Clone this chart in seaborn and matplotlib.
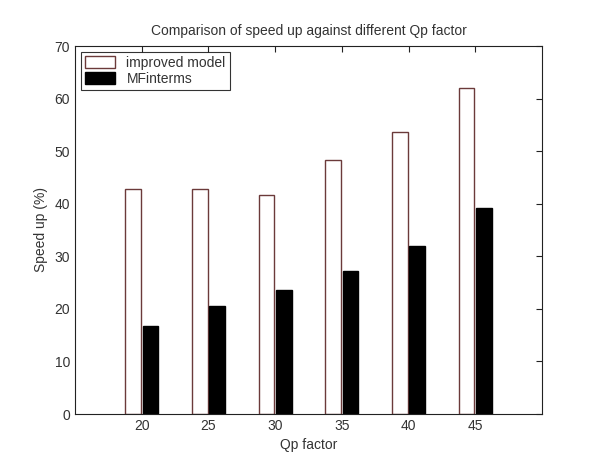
import matplotlib
matplotlib.use("Agg")
import matplotlib.pyplot as plt
import seaborn as sns
import pandas as pd

qp = [20, 25, 30, 35, 40, 45]
improved = [42.8, 42.8, 41.6, 48.4, 53.7, 62.1]
mfinterms = [16.7, 20.5, 23.5, 27.2, 32.0, 39.2]
series = ["improved model", "MFinterms"]

df = pd.DataFrame({
    "qp": qp * 2,
    "speed": improved + mfinterms,
    "series": [series[0]] * len(qp) + [series[1]] * len(qp),
})

sns.set_style("white")
plt.rcParams['font.family'] = ['Liberation Sans', 'DejaVu Sans']

fig = plt.figure(figsize=(6.01, 4.54), dpi=100)
ax = fig.add_axes([75/601, 1 - 414/454, (542-75)/601, (414-46)/454])

sns.barplot(data=df, x="qp", y="speed", hue="series", native_scale=True,
            palette=["white", "black"], width=0.52, gap=0.1, ax=ax, legend=True,
            errorbar=None, saturation=1)

edge_cols = ["#6b3a3a", "black"]
for cont, ec in zip(ax.containers, edge_cols):
    for p in cont:
        p.set_edgecolor(ec)
        p.set_linewidth(1.0)

ax.set_xlim(15, 50)
ax.set_ylim(0, 70)
ax.set_xticks(qp)
ax.set_xticklabels([str(v) for v in qp])
ax.set_yticks(range(0, 71, 10))

txt = "#333333"
fs = 10
ax.tick_params(direction="in", length=4, top=True, right=True,
               labelsize=fs, colors="#222222", labelcolor=txt, width=0.8)
for s in ax.spines.values():
    s.set_color("#222222")
    s.set_linewidth(0.8)

ax.set_xlabel("Qp factor", fontsize=fs, color=txt, labelpad=4)
ax.set_ylabel("Speed up (%)", fontsize=fs, color=txt, labelpad=5)
ax.set_title("Comparison of speed up against different Qp factor",
             fontsize=fs, color=txt, pad=8)

handles, labels = ax.get_legend_handles_labels()
for h, ec in zip(handles, edge_cols):
    h.set_edgecolor(ec)
leg = ax.legend(handles, labels, loc="upper left", fontsize=fs,
                frameon=True, fancybox=False, edgecolor="black",
                borderaxespad=0.4, handlelength=2.2, handleheight=1.0,
                labelspacing=0.15, borderpad=0.3, handletextpad=0.8)
leg.get_frame().set_linewidth(0.8)
for t in leg.get_texts():
    t.set_color(txt)

fig.savefig("out.png", dpi=100)
